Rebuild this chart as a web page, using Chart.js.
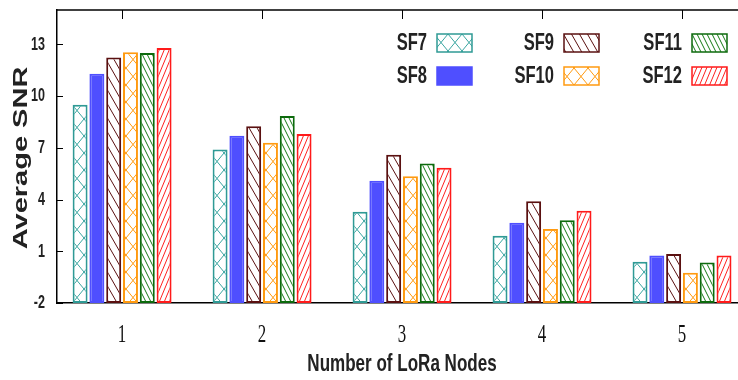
<!DOCTYPE html>
<html>
<head>
<meta charset="utf-8">
<script src="https://cdn.jsdelivr.net/npm/chart.js@4"></script>
<style>
  html, body { margin: 0; padding: 0; background: #fff; overflow: hidden; }
</style>
</head>
<body>
<canvas id="chart" width="738" height="380"></canvas>
<script>
const nodes = [1, 2, 3, 4, 5];
const sfNames = ['SF7', 'SF8', 'SF9', 'SF10', 'SF11', 'SF12'];
const sf7 = [9.5, 6.9, 3.3, 1.9, 0.4];
const sf8 = [11.3, 7.7, 5.1, 2.65, 0.75];
const sf9 = [12.25, 8.25, 6.6, 3.9, 0.85];
const sf10 = [12.55, 7.3, 5.35, 2.3, -0.25];
const sf11 = [12.5, 8.85, 6.1, 2.8, 0.35];
const sf12 = [12.8, 7.8, 5.85, 3.35, 0.75];
const yTicks = [-2, 1, 4, 7, 10, 13];

const allSeries = [sf7, sf8, sf9, sf10, sf11, sf12];
const lineColors = ['#2f9a95', '#4f4fff', '#5a1010', '#ff9a10', '#0c6a0c', '#ff1a1a'];

// small repeating hatch tiles, lines go corner to corner
function hatch(color, w, h, kind) {
  const c = document.createElement('canvas');
  c.width = w; c.height = h;
  const g = c.getContext('2d');
  g.fillStyle = '#fff';
  g.fillRect(0, 0, w, h);
  g.strokeStyle = color;
  g.lineWidth = 1;
  g.beginPath();
  for (let k = -1; k <= 1; k++) {
    if (kind !== 'fwd') { g.moveTo(k * w, 0); g.lineTo(k * w + w, h); }
    if (kind !== 'back') { g.moveTo(k * w + w, 0); g.lineTo(k * w, h); }
  }
  g.stroke();
  return g.createPattern(c, 'repeat');
}

const fills = [
  hatch('#3aa5a0', 14, 17, 'cross'),
  '#4f4fff',
  hatch('#5a1010', 8, 14, 'back'),
  hatch('#ff9a10', 14, 17, 'cross'),
  hatch('#137a13', 5, 10, 'back'),
  hatch('#ff2020', 5, 12, 'fwd')
];

const SANS = '"Liberation Sans", Arial, sans-serif';

// text squeezed sideways, like the condensed font in the original
function squeezed(ctx, text, x, y, sx, font, align) {
  ctx.save();
  ctx.translate(x, y);
  ctx.scale(sx, 1);
  ctx.font = font;
  ctx.textAlign = align;
  ctx.fillText(text, 0, 0);
  ctx.restore();
}

const overlay = {
  id: 'overlay',
  afterDraw(chart) {
    const { ctx, chartArea: a, scales: { x, y } } = chart;
    ctx.save();
    ctx.strokeStyle = '#000';
    ctx.lineWidth = 1.5;
    ctx.beginPath();
    ctx.moveTo(a.left, a.top);
    ctx.lineTo(a.right, a.top);
    ctx.stroke();

    ctx.lineWidth = 1;
    ctx.beginPath();
    yTicks.forEach(v => {
      const py = Math.round(y.getPixelForValue(v)) + 0.5;
      ctx.moveTo(a.left, py);
      ctx.lineTo(a.left + 6, py);
    });
    nodes.forEach(n => {
      const px = Math.round(x.getPixelForValue(n)) + 0.5;
      ctx.moveTo(px, a.top);
      ctx.lineTo(px, a.top + 9);
    });
    ctx.stroke();

    ctx.textBaseline = 'middle';
    // tick labels
    ctx.fillStyle = '#222';
    yTicks.forEach(v => {
      squeezed(ctx, String(v), a.left - 12, y.getPixelForValue(v), 0.66, 'bold 19px ' + SANS, 'right');
    });
    ctx.fillStyle = '#111';
    nodes.forEach(n => {
      squeezed(ctx, String(n), x.getPixelForValue(n), a.bottom + 32, 0.65, '26px "Liberation Serif", "Times New Roman", serif', 'center');
    });

    // legend: 3 columns x 2 rows, label then swatch
    const colBox = [437, 564, 692];
    const rowY = [34, 67];
    chart.data.datasets.forEach((ds, i) => {
      const bx = colBox[Math.floor(i / 2)];
      const by = rowY[i % 2];
      ctx.fillStyle = '#222';
      squeezed(ctx, ds.label, bx - 10, by + 10, 0.72, 'bold 23px ' + SANS, 'right');
      ctx.fillStyle = ds.backgroundColor;
      ctx.fillRect(bx, by, 35, 18);
      ctx.strokeStyle = ds.borderColor;
      ctx.lineWidth = 1.5;
      ctx.strokeRect(bx, by, 35, 18);
    });

    // axis titles
    ctx.fillStyle = '#222';
    squeezed(ctx, 'Number of LoRa Nodes', 402, 364, 0.71, 'bold 24px ' + SANS, 'center');

    ctx.translate(21, 158);
    ctx.rotate(-Math.PI / 2);
    squeezed(ctx, 'Average SNR', 0, 0, 1.45, 'bold 20px ' + SANS, 'center');
    ctx.restore();
  }
};

new Chart(document.getElementById('chart'), {
  type: 'bar',
  data: {
    datasets: allSeries.map((vals, i) => ({
      label: sfNames[i],
      data: nodes.map((n, j) => ({ x: n, y: vals[j] })),
      backgroundColor: fills[i],
      borderColor: lineColors[i],
      borderWidth: 2,
      borderSkipped: false,
      base: -2,
      categoryPercentage: 0.72,
      barPercentage: 0.89
    }))
  },
  options: {
    responsive: false,
    animation: false,
    layout: { padding: { top: 10, right: 0, left: 0, bottom: 0 } },
    plugins: { legend: { display: false }, tooltip: { enabled: false } },
    scales: {
      x: {
        type: 'linear',
        offset: false,
        min: 0.535,
        max: 5.4,
        afterBuildTicks: s => { s.ticks = nodes.map(v => ({ value: v })); },
        afterFit: s => { s.height = 77; },
        grid: { display: false, drawTicks: false },
        border: { color: '#000', width: 1.5 },
        ticks: { display: false }
      },
      y: {
        min: -2,
        max: 15,
        afterBuildTicks: s => { s.ticks = yTicks.map(v => ({ value: v })); },
        afterFit: s => { s.width = 57; },
        grid: { display: false, drawTicks: false },
        border: { color: '#000', width: 1.5 },
        ticks: { display: false }
      }
    }
  },
  plugins: [overlay]
});
</script>
</body>
</html>
